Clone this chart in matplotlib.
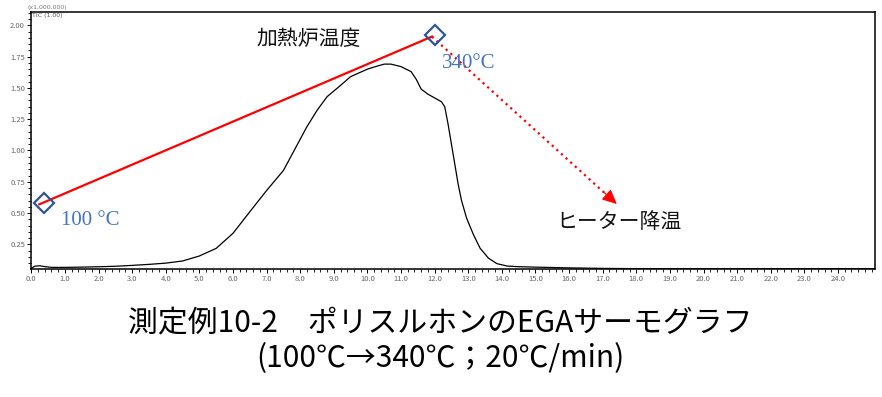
import numpy as np
import matplotlib
matplotlib.use("Agg")
from matplotlib import pyplot as plt
from matplotlib.ticker import MultipleLocator, FormatStrFormatter

plt.rcParams['font.family'] = ['Noto Sans CJK JP', 'DejaVu Sans']

# TIC chromatogram (x1,000,000)
time_min = [0.0, 0.1, 0.25, 0.4, 0.6, 1.0, 1.5, 2.0, 2.5, 3.0, 3.5, 4.0, 4.5, 5.0,
            5.5, 6.0, 6.5, 7.0, 7.5, 7.8, 8.0, 8.2, 8.5, 8.8, 9.2, 9.5, 10.0,
            10.3, 10.5, 10.7, 11.0, 11.3, 11.45, 11.6, 11.8, 12.0, 12.2, 12.3,
            12.4, 12.5, 12.6, 12.7, 12.8, 12.95, 13.15, 13.35, 13.6, 13.85,
            14.15, 14.45, 15.0, 16.0, 17.0, 18.0, 20.0, 22.0, 24.0, 25.1]
tic = [0.058, 0.075, 0.079, 0.072, 0.066, 0.066, 0.068, 0.071, 0.075, 0.082,
       0.090, 0.100, 0.117, 0.157, 0.218, 0.338, 0.51, 0.68, 0.84, 0.99,
       1.09, 1.19, 1.32, 1.43, 1.52, 1.59, 1.65, 1.675, 1.69, 1.69, 1.67,
       1.63, 1.57, 1.49, 1.45, 1.42, 1.39, 1.35, 1.21, 1.05, 0.89, 0.73,
       0.60, 0.46, 0.33, 0.22, 0.14, 0.096, 0.077, 0.072, 0.068, 0.062,
       0.058, 0.056, 0.055, 0.055, 0.056, 0.055]

# furnace temperature program markers
heat_t = [0.39, 12.02]
heat_y = [0.577, 1.92]
heat_labels = ['100 °C', '340°C']
cool_end = (17.42, 0.572)

title1 = '測定例10-2\u3000ポリスルホンのEGAサーモグラフ'
title2 = '(100℃→340℃；20℃/min)'


def along(p, q, f):
    return (p[0] + f * (q[0] - p[0]), p[1] + f * (q[1] - p[1]))


fig = plt.figure(figsize=(8.82, 3.97), dpi=100)
ax = fig.add_axes([0.0355, 0.3224, 0.9565, 0.6466])

ax.plot(time_min, tic, color='black', lw=0.9)

# heating line (red) and cooling arrow (dotted)
start = (heat_t[1] - 0.1, heat_y[1] - 0.01)
ax.plot([0.24, start[0]], [0.57, start[1]], color='red', lw=1.6)
dots_end = along(start, cool_end, 0.955)
ax.plot([start[0], dots_end[0]], [start[1], dots_end[1]], color='red', lw=1.6,
        ls=(0, (1, 1.8)))
ax.annotate('', xy=cool_end, xytext=along(start, cool_end, 0.93),
            arrowprops=dict(arrowstyle='-|>,head_length=0.6,head_width=0.28',
                            color='red', lw=0.8, mutation_scale=15,
                            shrinkA=0, shrinkB=0))
ax.plot(heat_t, heat_y, ls='none', marker='D', ms=10, mfc='none',
        mec='#2F5597', mew=1.6)

blue = '#4472C4'
ax.text(1.74, 0.44, heat_labels[0], color=blue, fontsize=15,
        family=['Liberation Serif', 'DejaVu Serif'], ha='center', va='center')
ax.text(13.0, 1.695, heat_labels[1], color=blue, fontsize=15,
        family=['Liberation Serif', 'DejaVu Serif'], ha='center', va='center')
ax.text(8.25, 1.89, '加熱炉温度', color='#111111', fontsize=15,
        ha='center', va='center')
ax.text(17.49, 0.432, 'ヒーター降温', color='#111111', fontsize=15,
        ha='center', va='center')

ax.set_xlim(0, 25.1)
ax.set_ylim(0.053, 2.104)
ax.xaxis.set_minor_locator(MultipleLocator(0.2))
ax.yaxis.set_minor_locator(MultipleLocator(0.05))
ax.xaxis.set_major_formatter(FormatStrFormatter('%.1f'))
ax.yaxis.set_major_formatter(FormatStrFormatter('%.2f'))
ax.set_xticks(np.arange(0, 25, 1.0))
ax.set_yticks(np.arange(0.25, 2.01, 0.25))
ax.tick_params(which='major', direction='out', length=3, width=0.7,
               labelsize=5.5, labelcolor='#666666', pad=1.5)
ax.tick_params(which='minor', direction='out', length=2, width=0.6)
for sp in ax.spines.values():
    sp.set_linewidth(1.1)

fig.text(0.031, 0.982, '(x1,000,000)', fontsize=4.5, color='#777777',
         family='DejaVu Sans', va='center')
fig.text(0.036, 0.961, 'TIC (1.00)', fontsize=4.5, color='#555555',
         family='DejaVu Sans', va='center')

fig.text(0.4989, 0.184, title1, fontsize=21.5, ha='center', va='center')
fig.text(0.4989, 0.097, title2, fontsize=21.5, ha='center', va='center')

fig.savefig('out.png', dpi=100)
